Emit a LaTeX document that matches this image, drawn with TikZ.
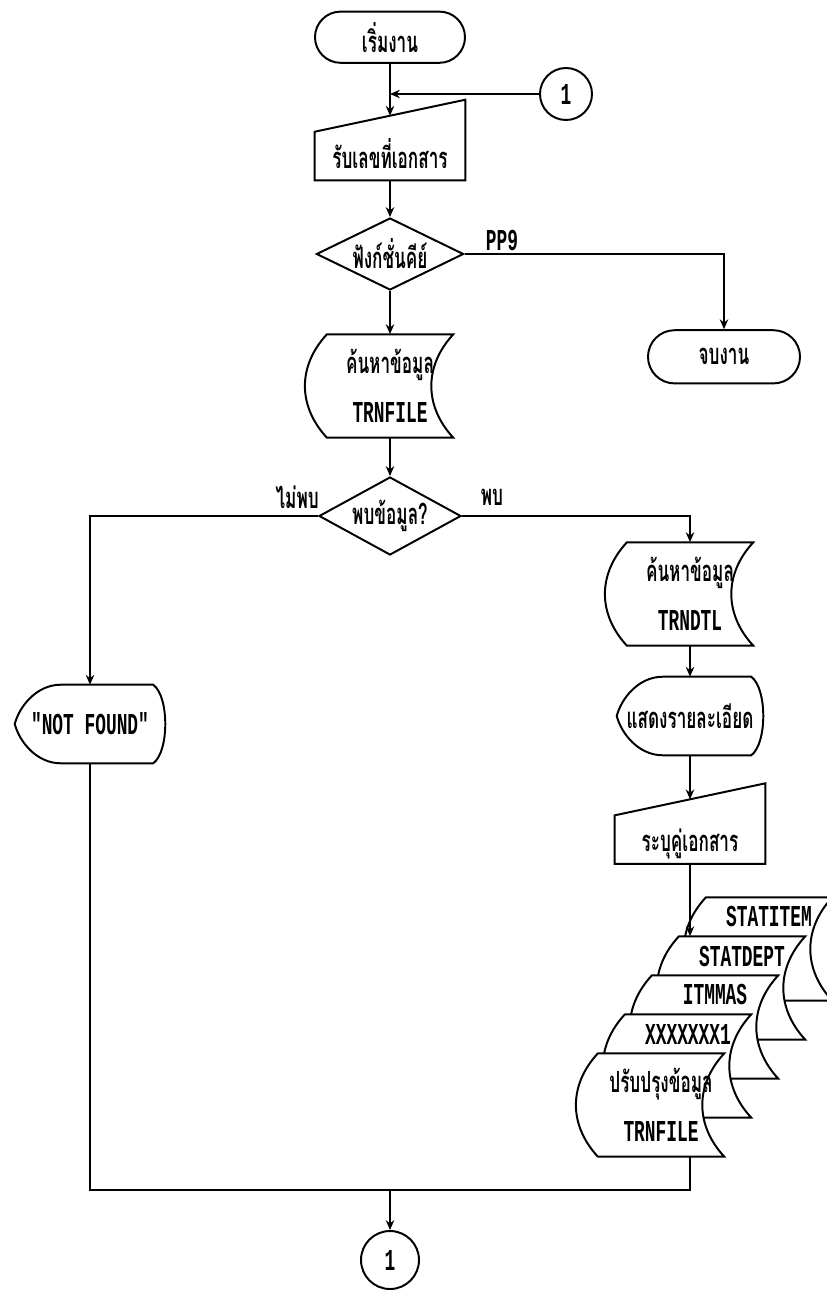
\documentclass[tikz,border=0pt]{standalone}
\usepackage{fontspec,graphicx}
\newfontfamily\thaifont[Script=Thai]{Loma}
\newfontfamily\latfont{Liberation Mono}
\usetikzlibrary{shapes.geometric,shapes.misc,positioning,calc,arrows.meta}
\tikzset{ink/.style={line width=1.4pt},
 arr/.style={ink,-{Stealth[length=7pt,width=6pt]}},
 term/.style={draw,ink,rounded rectangle,minimum width=3.75cm,minimum height=1.28cm,inner sep=0},
 conn/.style={draw,ink,circle,minimum size=1.3cm,inner sep=0},
 dec/.style={draw,ink,diamond,aspect=2,inner sep=0},
 manin/.style={minimum width=3.75cm,minimum height=1.6cm,inner sep=0,text height=1.3cm,text depth=0.3cm,
  append after command={\pgfextra{\draw[ink](\tikzlastnode.south west)--(\tikzlastnode.south east)
  --([yshift=0.4cm]\tikzlastnode.north east)--([yshift=-0.4cm]\tikzlastnode.north west)--cycle;}}},
 disp/.style={minimum width=3.75cm,minimum height=1.95cm,inner sep=0,
  append after command={\pgfextra{\draw[ink]([xshift=1.15cm]\tikzlastnode.north west)
  --([xshift=-0.3cm]\tikzlastnode.north east)
  ..controls([xshift=0.1cm,yshift=-0.3cm]\tikzlastnode.north east)and([xshift=0.1cm,yshift=0.3cm]\tikzlastnode.south east)..([xshift=-0.3cm]\tikzlastnode.south east)
  --([xshift=1.15cm]\tikzlastnode.south west)
  ..controls([xshift=0.55cm]\tikzlastnode.south west)and([xshift=0.12cm,yshift=-0.45cm]\tikzlastnode.west)..(\tikzlastnode.west)
  ..controls([xshift=0.12cm,yshift=0.45cm]\tikzlastnode.west)and([xshift=0.55cm]\tikzlastnode.north west)..([xshift=1.15cm]\tikzlastnode.north west)--cycle;}}},
 storebox/.style={minimum width=3.16cm,minimum height=2.58cm,inner sep=0,align=center},
 strip/.style={minimum width=3.16cm,minimum height=0.975cm,inner sep=0},
 lbl/.style={inner sep=1pt}}
\newcommand{\thtxt}[1]{\scalebox{1}[1.7]{\thaifont\bfseries\fontsize{12.2}{15}\selectfont #1}}
\newcommand{\lttxt}[1]{\scalebox{1}[1.7]{\latfont\bfseries\fontsize{12.7}{15}\selectfont #1}}
\newcommand{\filestore}[1]{\draw[ink,fill=white,shift={(#1)}](-1.58,1.29)--(1.58,1.29)
 ..controls(0.85,0.5)and(0.85,-0.5)..(1.58,-1.29)--(-1.58,-1.29)
 ..controls(-2.31,-0.5)and(-2.31,0.5)..(-1.58,1.29)--cycle;}

\begin{document}
\begin{tikzpicture}[x=1cm,y=1cm]
\useasboundingbox(0,0)rectangle(20.675,-32.75);
\clip(0,0)rectangle(20.675,-32.75);
% main column
\node[term](start) at(9.75,-0.93){\thtxt{เริ่มงาน}};
\node[conn](con1) at(14.15,-2.35){\lttxt{1}};
\coordinate(j1) at(start|-con1);
\node[manin](in1) at(9.75,-3.7){\thtxt{รับเลขที่เอกสาร}};
\node[dec,minimum width=3.68cm,minimum height=1.8cm](dec1) at(9.75,-6.35){\thtxt{ฟังก์ชั่นคีย์}};
\node[lbl](pp9) at(12.55,-6.0){\lttxt{PP9}};
\node[term,minimum width=3.8cm,minimum height=1.33cm](endt) at(18.1,-8.92){\thtxt{จบงาน}};
\filestore{9.75,-9.65}
\node[storebox](st1) at(9.75,-9.65){\thtxt{ค้นหาข้อมูล}\\[5mm]\lttxt{TRNFILE}};
\node[dec,minimum width=3.55cm,minimum height=1.95cm](dec2) at(9.75,-12.9){\thtxt{พบข้อมูล?}};
\node[lbl](lno) at(7.43,-12.43){\thtxt{ไม่พบ}};
\node[lbl](lyes) at(12.3,-12.43){\thtxt{พบ}};
\draw[ink](start)--(j1);
\draw[arr](j1)--(in1);
\draw[arr](con1)--(j1);
\draw[arr](in1)--(dec1);
\draw[arr](dec1)-|(endt);
\draw[arr](dec1)--(st1);
\draw[arr](st1)--(dec2);
% not found branch
\node[disp](nf) at(2.25,-18.1){\lttxt{"NOT FOUND"}};
\draw[arr](dec2)-|(nf);
% found branch
\filestore{17.25,-14.85}
\node[storebox](dtl) at(17.25,-14.85){\thtxt{ค้นหาข้อมูล}\\[5mm]\lttxt{TRNDTL}};
\node[disp,minimum width=3.65cm](d2) at(17.25,-17.9){\thtxt{แสดงรายละเอียด}};
\node[manin](in2) at(17.25,-20.79){\thtxt{ระบุคู่เอกสาร}};
\draw[arr](dec2)-|(dtl);
\draw[arr](dtl)--(d2);
\draw[arr](d2)--(in2);
% update files
\filestore{19.225,-23.725}
\node[strip](s4) at(19.225,-22.92){\lttxt{STATITEM}};
\filestore{18.55,-24.7}
\node[strip](s3) at(18.55,-23.9){\lttxt{STATDEPT}};
\filestore{17.875,-25.675}
\node[strip](s2) at(17.875,-24.87){\lttxt{ITMMAS}};
\filestore{17.2,-26.65}
\node[strip](s1) at(17.2,-25.85){\lttxt{XXXXXXX1}};
\filestore{16.525,-27.625}
\node[storebox](f0) at(16.525,-27.625){\thtxt{ปรับปรุงข้อมูล}\\[5mm]\lttxt{TRNFILE}};
\draw[arr](in2)--(in2|-s3.north);
% join
\coordinate(m) at(9.75,-29.75);
\node[conn,minimum size=1.45cm](con2) at(9.75,-31.5){\lttxt{1}};
\draw[ink](nf)|-(m);
\draw[ink](f0.south-|in2)|-(m);
\draw[arr](m)--(con2);
\end{tikzpicture}
\end{document}
